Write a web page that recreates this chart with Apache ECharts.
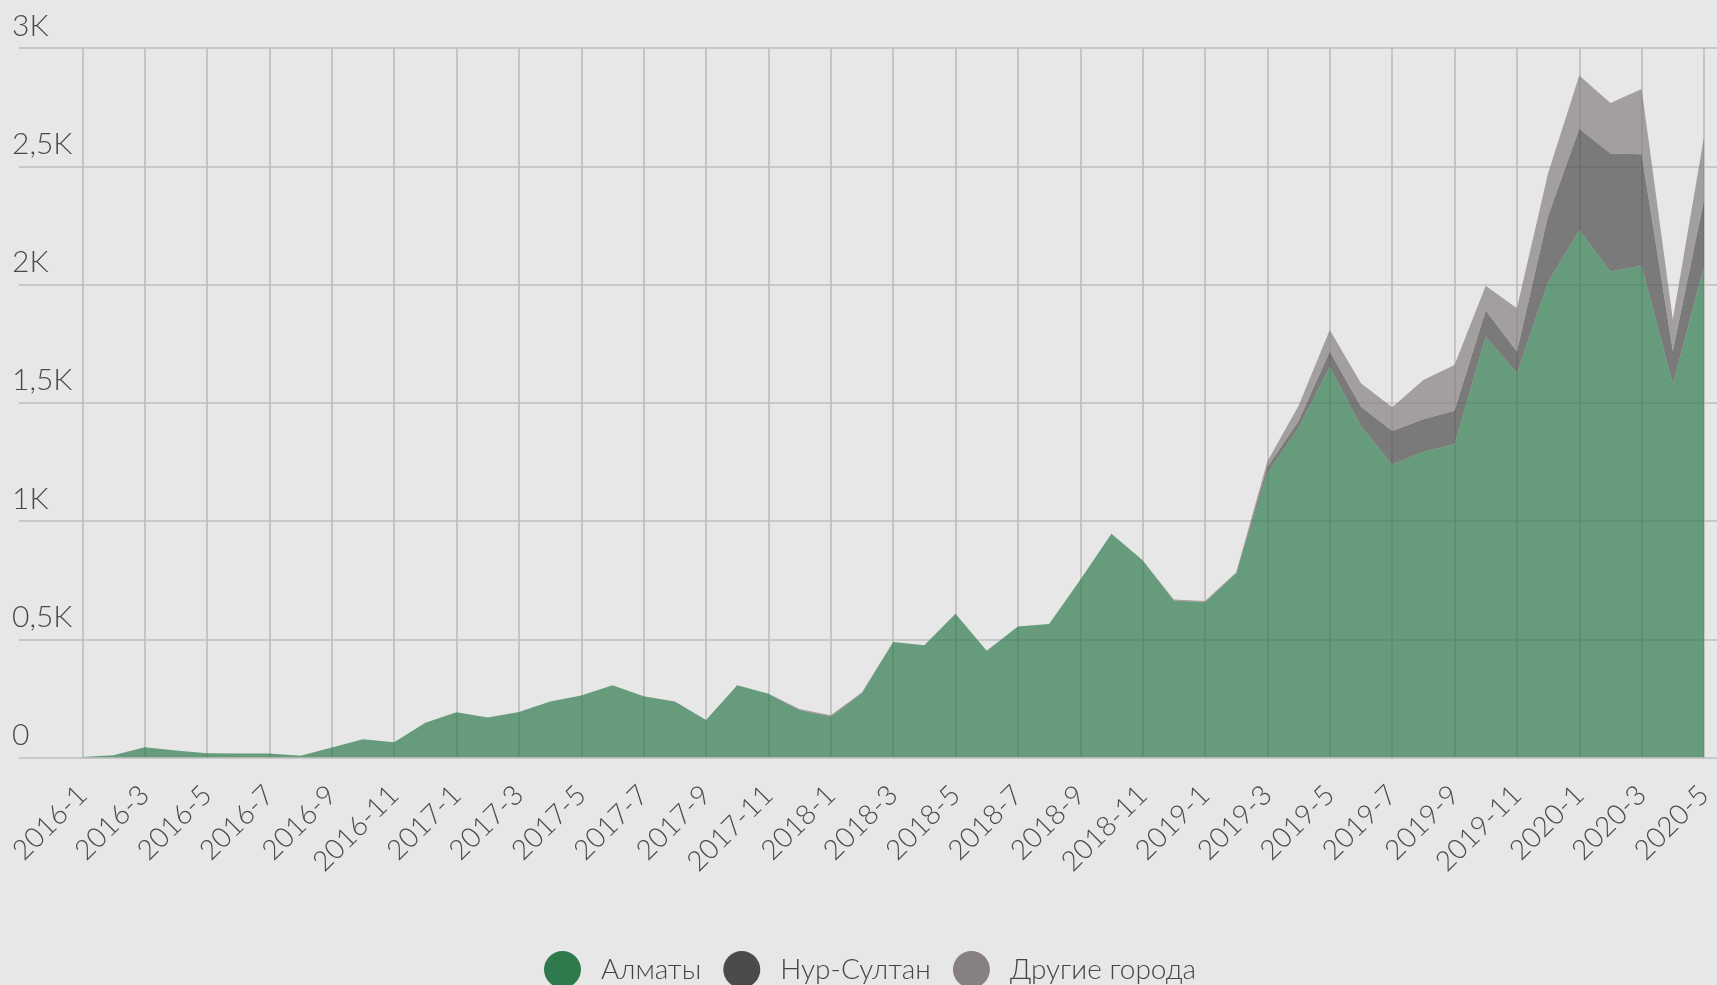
<!DOCTYPE html>
<html>
<head>
<meta charset="utf-8">
<script src="https://cdn.jsdelivr.net/npm/echarts@6/dist/echarts.min.js"></script>
<style>
  html, body { margin: 0; padding: 0; background: #e7e7e7; }
  #chart { width: 1717px; height: 985px; }
</style>
</head>
<body>
<div id="chart"></div>
<script>
const categories = [
  '2016-1','2016-2','2016-3','2016-4','2016-5','2016-6','2016-7','2016-8','2016-9','2016-10','2016-11','2016-12',
  '2017-1','2017-2','2017-3','2017-4','2017-5','2017-6','2017-7','2017-8','2017-9','2017-10','2017-11','2017-12',
  '2018-1','2018-2','2018-3','2018-4','2018-5','2018-6','2018-7','2018-8','2018-9','2018-10','2018-11','2018-12',
  '2019-1','2019-2','2019-3','2019-4','2019-5','2019-6','2019-7','2019-8','2019-9','2019-10','2019-11','2019-12',
  '2020-1','2020-2','2020-3','2020-4','2020-5'
];

const almaty = [
  2, 10, 43, 30, 18, 17, 17, 7, 42, 77, 64, 147,
  191, 169, 192, 237, 262, 305, 259, 237, 159, 305, 270, 200,
  172, 272, 488, 475, 608, 451, 554, 564, 752, 946, 834, 663,
  655, 778, 1203, 1395, 1651, 1402, 1239, 1293, 1325, 1780, 1625, 2010,
  2231, 2055, 2079, 1578, 2077
];

const nurSultan = [
  0, 0, 0, 0, 0, 0, 0, 0, 0, 0, 0, 0,
  0, 0, 0, 0, 0, 0, 0, 0, 0, 0, 0, 1,
  2, 1, 0, 0, 0, 0, 0, 0, 0, 0, 0, 1,
  2, 2, 25, 28, 66, 81, 142, 137, 141, 110, 92, 280,
  428, 499, 472, 141, 280
];

const others = [
  0, 0, 0, 0, 0, 0, 0, 0, 0, 0, 0, 0,
  0, 0, 0, 0, 0, 0, 0, 0, 0, 0, 0, 4,
  5, 3, 0, 0, 0, 0, 0, 0, 0, 0, 0, 4,
  5, 3, 25, 64, 91, 99, 100, 166, 194, 105, 183, 180,
  225, 213, 276, 133, 267
];

const yTickLabels = ['0', '0,5K', '1K', '1,5K', '2K', '2,5K', '3K'];
const seriesNames = ['Алматы', 'Нур-Султан', 'Другие города'];

const FONT = "Lato, 'Noto Sans', sans-serif";
const chart = echarts.init(document.getElementById('chart'));

const gridTop = 48, gridBottom = 227.5;

chart.setOption({
  backgroundColor: '#e7e7e7',
  animation: false,
  color: ['#2f7a4d', '#4b4b4b', '#878080'],
  legend: {
    data: seriesNames,
    left: 539,
    top: 946,
    icon: 'circle',
    itemWidth: 37,
    itemHeight: 37,
    itemGap: 22,
    textStyle: {
      fontFamily: FONT,
      fontWeight: 300,
      fontSize: 28,
      color: '#454545',
      padding: [0, 0, 0, 15]
    }
  },
  grid: [
    { left: 19, right: 0, top: gridTop, bottom: gridBottom },
    { left: 82.3, right: 13, top: gridTop, bottom: gridBottom }
  ],
  xAxis: [
    { gridIndex: 0, type: 'category', data: categories, show: false },
    {
      gridIndex: 1,
      type: 'category',
      data: categories,
      boundaryGap: false,
      axisLine: { show: false },
      axisTick: { show: false },
      axisLabel: {
        interval: 1,
        rotate: 45,
        margin: 33,
        fontFamily: FONT,
        fontWeight: 300,
        fontSize: 28,
        color: '#4a4a4a'
      },
      splitLine: {
        show: true,
        interval: 1,
        lineStyle: { color: '#b8b8b8', width: 1.5 }
      }
    }
  ],
  yAxis: [
    {
      gridIndex: 0,
      type: 'value',
      min: 0,
      max: 3000,
      interval: 500,
      axisLine: { show: false },
      axisTick: { show: false },
      axisLabel: {
        align: 'left',
        verticalAlign: 'bottom',
        margin: 7,
        padding: [0, 0, 7, 0],
        fontFamily: FONT,
        fontWeight: 300,
        fontSize: 30,
        color: '#4a4a4a',
        showMaxLabel: true,
        formatter: function (v) { return yTickLabels[Math.round(v / 500)]; }
      },
      splitLine: { show: true, lineStyle: { color: '#c8c8c8', width: 2 } }
    },
    {
      gridIndex: 1,
      type: 'value',
      min: 0,
      max: 3000,
      interval: 500,
      show: false,
      splitLine: { show: false }
    }
  ],
  series: [
    { name: seriesNames[0], data: almaty },
    { name: seriesNames[1], data: nurSultan },
    { name: seriesNames[2], data: others }
  ].map(s => ({
    name: s.name,
    type: 'line',
    xAxisIndex: 1,
    yAxisIndex: 1,
    stack: 'total',
    data: s.data,
    showSymbol: false,
    symbol: 'none',
    lineStyle: { width: 0 },
    areaStyle: { opacity: 0.7 },
    emphasis: { disabled: true }
  }))
});
</script>
</body>
</html>
